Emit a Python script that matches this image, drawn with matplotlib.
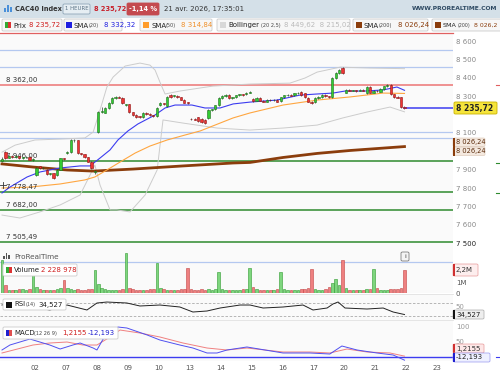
import matplotlib
matplotlib.use('Agg')
import matplotlib.pyplot as plt
from matplotlib.patches import FancyBboxPatch, Rectangle
from matplotlib.lines import Line2D
from matplotlib import transforms

W, H = 500, 375

# ---- hourly candles, 31 Mar close .. 21 Apr (9 bars per session) ----
opens = [7950,
         7995, 7965, 7975, 7968, 7974, 7962, 7968, 7972, 7955,
         7872, 7918, 7908, 7900, 7876, 7880, 7872, 7900, 7962,
         7990, 7995, 8060, 8060, 7990, 7985, 7970, 7945, 7890,
         8105, 8214, 8210, 8236, 8263, 8290, 8298, 8292, 8250,
         8255, 8212, 8198, 8190, 8186, 8208, 8205, 8196, 8190,
         8250, 8262, 8245, 8307, 8300, 8302, 8293, 8282, 8268,
         8178, 8176, 8185, 8178, 8172, 8182, 8225, 8228, 8252,
         8290, 8300, 8306, 8290, 8294, 8305, 8310, 8312, 8320,
         8285, 8275, 8292, 8275, 8270, 8280, 8277, 8280, 8272,
         8295, 8305, 8307, 8305, 8315, 8322, 8317, 8290, 8270,
         8268, 8290, 8296, 8306, 8300, 8296, 8400, 8426, 8452,
         8320, 8335, 8330, 8333, 8329, 8334, 8318, 8350, 8320,
         8330, 8325, 8340, 8355, 8362, 8310, 8296, 8295, 8244]
closes = [7960,
          7965, 7975, 7968, 7974, 7962, 7968, 7972, 7955, 7960,
          7910, 7908, 7912, 7875, 7880, 7858, 7900, 7962, 7957,
          7995, 8062, 8062, 7992, 7985, 7970, 7945, 7910, 7895,
          8214, 8220, 8236, 8263, 8290, 8298, 8292, 8263, 8256,
          8212, 8198, 8187, 8186, 8208, 8204, 8196, 8192, 8236,
          8262, 8255, 8296, 8296, 8305, 8296, 8282, 8265, 8262,
          8176, 8172, 8165, 8160, 8155, 8225, 8228, 8250, 8290,
          8300, 8306, 8290, 8293, 8305, 8310, 8306, 8320, 8323,
          8275, 8292, 8275, 8270, 8280, 8277, 8280, 8270, 8295,
          8305, 8307, 8303, 8315, 8318, 8306, 8296, 8270, 8265,
          8290, 8296, 8306, 8300, 8296, 8400, 8426, 8442, 8426,
          8335, 8330, 8333, 8329, 8334, 8330, 8350, 8320, 8330,
          8327, 8340, 8355, 8362, 8310, 8295, 8292, 8242, 8235.72]
highs = [7968,
         8002, 7980, 7980, 7978, 7976, 7970, 7976, 7975, 7963,
         7915, 7922, 7916, 7902, 7884, 7882, 7904, 7966, 7966,
         8000, 8066, 8070, 8064, 7994, 7988, 7972, 7948, 7900,
         8218, 8240, 8240, 8266, 8294, 8302, 8300, 8294, 8260,
         8258, 8216, 8202, 8194, 8212, 8212, 8208, 8200, 8240,
         8266, 8265, 8300, 8310, 8308, 8305, 8296, 8285, 8270,
         8182, 8180, 8188, 8182, 8176, 8228, 8232, 8254, 8294,
         8304, 8310, 8310, 8296, 8308, 8314, 8314, 8324, 8326,
         8288, 8296, 8295, 8278, 8284, 8283, 8284, 8283, 8298,
         8308, 8310, 8310, 8318, 8322, 8326, 8320, 8294, 8274,
         8294, 8300, 8310, 8310, 8302, 8404, 8430, 8446, 8460,
         8338, 8338, 8336, 8336, 8338, 8337, 8354, 8354, 8334,
         8333, 8344, 8358, 8366, 8366, 8314, 8300, 8298, 8248]
lows = [7945,
        7960, 7962, 7965, 7965, 7958, 7958, 7965, 7952, 7950,
        7866, 7905, 7905, 7870, 7872, 7850, 7868, 7898, 7952,
        7985, 7990, 8052, 7988, 7980, 7966, 7940, 7905, 7876,
        8100, 8208, 8206, 8232, 8260, 8286, 8288, 8260, 8246,
        8208, 8194, 8183, 8182, 8183, 8200, 8193, 8188, 8186,
        8248, 8250, 8242, 8292, 8296, 8292, 8278, 8262, 8258,
        8172, 8168, 8162, 8156, 8150, 8178, 8220, 8224, 8248,
        8286, 8296, 8286, 8286, 8290, 8302, 8302, 8308, 8316,
        8270, 8272, 8272, 8266, 8267, 8274, 8274, 8266, 8268,
        8292, 8302, 8300, 8302, 8312, 8302, 8292, 8266, 8260,
        8264, 8286, 8292, 8296, 8292, 8290, 8396, 8422, 8422,
        8315, 8326, 8326, 8325, 8326, 8326, 8314, 8316, 8316,
        8323, 8321, 8336, 8352, 8306, 8290, 8288, 8238, 8232]
volumes_m = [3.1,
             0.75, 0.3, 0.3, 0.25, 0.35, 0.35, 0.3, 0.4, 2.7,
             0.6, 0.35, 0.3, 0.3, 0.25, 0.3, 0.35, 0.45, 1.2,
             0.5, 0.4, 0.3, 0.35, 0.3, 0.3, 0.35, 0.4, 2.2,
             0.85, 0.45, 0.35, 0.3, 0.3, 0.25, 0.3, 0.4, 3.8,
             0.5, 0.35, 0.3, 0.3, 0.25, 0.3, 0.35, 0.4, 2.9,
             0.45, 0.35, 0.3, 0.3, 0.25, 0.3, 0.4, 0.35, 2.4,
             0.4, 0.3, 0.3, 0.35, 0.3, 0.4, 0.3, 0.35, 2.0,
             0.4, 0.3, 0.3, 0.25, 0.3, 0.3, 0.35, 0.4, 2.4,
             0.55, 0.35, 0.3, 0.3, 0.25, 0.3, 0.3, 0.35, 2.0,
             0.4, 0.3, 0.3, 0.25, 0.3, 0.35, 0.4, 0.45, 2.3,
             0.35, 0.3, 0.3, 0.4, 0.6, 1.0, 1.3, 0.8, 3.1,
             0.45, 0.3, 0.3, 0.3, 0.25, 0.3, 0.35, 0.4, 2.3,
             0.5, 0.3, 0.3, 0.3, 0.35, 0.4, 0.35, 0.45, 2.2]

day_labels = ['02', '07', '08', '09', '10', '13', '14', '15', '16', '17',
              '20', '21', '22', '23']

# indicator lines (bar index, value)
sma20_x = [0, 2.3, 7.3, 11.0, 16.9, 22.7, 25.6, 28.5, 31.4, 33.7, 36.6, 39.5,
           44.5, 47.4, 50.3, 55.2, 59.0, 63.4, 67.2, 72.1, 79.9, 86.6, 91.6,
           96.2, 99.7, 105.5, 110.8, 114.8, 117]
sma20_y = [7774, 7806, 7861, 7888, 7910, 7921, 7921, 7964, 8008, 8062, 8111,
           8149, 8198, 8236, 8252, 8252, 8236, 8236, 8258, 8268, 8279, 8306,
           8312, 8317, 8328, 8328, 8334, 8350, 8332]
sma50_x = [0, 8.1, 16.9, 24.1, 27.0, 30.5, 34.3, 38.7, 43.0, 48.0, 53.2, 57.6,
           63.4, 67.2, 72.1, 81.7, 91.6, 101.2, 110.8, 117]
sma50_y = [7801, 7806, 7823, 7845, 7861, 7899, 7942, 7991, 8029, 8062, 8089,
           8111, 8154, 8182, 8209, 8252, 8279, 8296, 8317, 8315]
sma200_x = [0, 9.0, 18.9, 26.5, 38.1, 52.6, 67.2, 72.1, 81.7, 91.6, 101.2, 117]
sma200_y = [7932, 7915, 7899, 7893, 7904, 7921, 7937, 7940, 7967, 7989, 8005,
            8026.24]
boll_up_x = [0, 3.8, 9.6, 16.9, 24.1, 26.5, 28.5, 30.5, 32.3, 35.8, 40.1, 43.0,
             44.5, 45.9, 47.4, 51.7, 61.3, 72.1, 83.7, 88.1, 91.6, 98.3, 107.0,
             117]
boll_up_y = [7996, 8034, 8062, 8067, 8073, 8105, 8225, 8350, 8404, 8464, 8480,
             8469, 8442, 8377, 8312, 8328, 8355, 8366, 8371, 8399, 8431, 8458,
             8453, 8449.62]
boll_lo_x = [0, 5.2, 11.0, 16.9, 22.7, 25.6, 27.0, 28.5, 31.4, 33.4, 37.2, 41.6,
             45.1, 46.8, 52.6, 62.5, 72.1, 81.7, 91.6, 99.1, 106.1, 112.8, 117]
boll_lo_y = [7654, 7638, 7671, 7709, 7763, 7872, 7926, 7817, 7682, 7682, 7671,
             7763, 7899, 8171, 8154, 8127, 8116, 8127, 8143, 8182, 8214, 8241,
             8215.02]
rsi_x = [0, 2.3, 13.9, 18.9, 24.7, 27.6, 30.5, 36.3, 40.1, 45.9, 51.7, 55.5,
         59.6, 63.4, 69.2, 72.1, 75.9, 81.7, 87.5, 90.4, 94.5, 96.2, 97.7, 99.7,
         106.1, 110.8, 113.7, 117]
rsi_y = [63.8, 70, 48.5, 63.8, 48.5, 70, 73, 70, 60.8, 63.8, 57.7, 42.3, 45.4,
         54.6, 63.8, 63.8, 54.6, 57.7, 63.8, 48.5, 54.6, 66.9, 73.1, 54.6, 51.5,
         54.6, 42.3, 34.527]
macd_x = [0, 2.3, 8.1, 13.9, 16.9, 20.6, 22.7, 26.5, 27.6, 29.4, 33.7, 36.3,
          42.2, 45.9, 51.7, 55.5, 59.6, 62.5, 65.4, 71.2, 81.7, 89.5, 95.3,
          98.8, 103.2, 109.0, 113.7, 117]
macd_y = [21.7, 38.3, 58.3, 38.3, 25, 38.3, 45, 28.3, 21.7, 58.3, 98.3, 95,
          71.7, 55, 38.3, 28.3, 11.7, 11.7, 21.7, 31.7, 11.7, 11.7, 8.3, 35,
          21.7, 11.7, 5, -12.193]
signal_x = [0, 9.0, 13.9, 18.9, 23.5, 27.6, 31.4, 34.3, 40.1, 45.9, 52.6, 59.6,
            65.4, 71.2, 81.7, 89.5, 95.3, 100.3, 106.1, 112.8, 117]
signal_y = [11.7, 38.3, 45, 48.3, 38.3, 38.3, 65, 88.3, 78.3, 65, 45, 28.3,
            21.7, 28.3, 15, 15, 11.7, 25, 15, 11.7, 1.2155]

green_levels = [7946.00, 7778.47, 7682.00, 7505.49]
blue_levels = [8551, 8457, 8107, 8071, 7400]
red_level = 8362.00
last_price = 8235.72

# ---------------------------------------------------------------------------
X0, X1 = -0.58, 131.1      # bar-index range covered by the plot area
BG = '#fafafa'


def fy(y):
    return 1 - y / H


def ax_at(top, bottom):
    return fig.add_axes([0, fy(bottom), 453 / W, (bottom - top) / H])


def T(x, y, s, **kw):
    kw.setdefault('va', 'center')
    kw.setdefault('fontsize', 5)
    return fig.text(x / W, fy(y), s, **kw)


def box(x0, y0, x1, y1, fc, ec, lw=0.6, z=2):
    p = FancyBboxPatch((x0 / W, fy(y1)), (x1 - x0) / W, (y1 - y0) / H,
                       boxstyle='round,pad=0,rounding_size=0.003',
                       transform=fig.transFigure, fc=fc, ec=ec, lw=lw, zorder=z)
    fig.add_artist(p)


def rect(x0, y0, x1, y1, fc, z=2):
    fig.add_artist(Rectangle((x0 / W, fy(y1)), (x1 - x0) / W, (y1 - y0) / H,
                             transform=fig.transFigure, fc=fc, ec='none', zorder=z))


def seg(x0, y0, x1, y1, color, lw=1.0, z=2):
    fig.add_artist(Line2D([x0 / W, x1 / W], [fy(y0), fy(y1)], color=color, lw=lw,
                          transform=fig.transFigure, zorder=z))


fig = plt.figure(figsize=(5, 3.75), dpi=100, facecolor='white')

# ---- price panel -----------------------------------------------------------
ax = ax_at(33, 293)
ax.set_facecolor(BG)
ax.set_xlim(X0, X1)
ax.set_ylim(7230.4, 8643.5)
for s in ax.spines.values():
    s.set_visible(False)
ax.set_xticks([])
ax.yaxis.tick_right()
# 8 000 and 8 200 sit under the value tags on the right
pt = [7500, 7600, 7700, 7800, 7900, 8100, 8300, 8400, 8500, 8600]
ax.set_yticks(pt)
ax.set_yticklabels([f'{v:,}'.replace(',', ' ') for v in pt])
ax.tick_params(axis='y', length=0, pad=2, labelsize=5, labelcolor='#888888')
ax.get_yticklabels()[0].set_color('#222222')

for lv in blue_levels:
    ax.axhline(lv, color='#b4c8f0', lw=0.9, zorder=1)
ax.axhline(red_level, color='#ee8888', lw=1.3, zorder=1)
for lv in green_levels:
    ax.axhline(lv, color='#2e8b2e', lw=1.1, zorder=1)

ax.plot(boll_up_x, boll_up_y, color='#cccccc', lw=0.7, zorder=2)
ax.plot(boll_lo_x, boll_lo_y, color='#cccccc', lw=0.7, zorder=2)
ax.plot(sma200_x, sma200_y, color='#8b3d0c', lw=2.0, zorder=2)
ax.plot(sma50_x, sma50_y, color='#ffa640', lw=0.8, zorder=2)
ax.plot(sma20_x, sma20_y, color='#3c3cf0', lw=0.8, zorder=2)

idx = list(range(len(closes)))
up = [c >= o for o, c in zip(opens, closes)]
ax.vlines(idx, lows, highs, color='#333333', lw=0.5, zorder=3)
bottoms = [min(o, c) for o, c in zip(opens, closes)]
heights = [max(abs(c - o), 2.5) for o, c in zip(opens, closes)]
ax.bar(idx, heights, bottom=bottoms, width=0.66,
       color=['#33cc33' if u else '#ee3333' for u in up],
       edgecolor=['#1d6e1d' if u else '#8e1414' for u in up], lw=0.4, zorder=4)
ax.plot([len(closes) - 1, X1], [last_price, last_price], color='#3c3cf0',
        lw=1.1, zorder=3)

lbl = transforms.blended_transform_factory(ax.transAxes, ax.transData)
for lv, txt in [(red_level, '8 362,00'), (7946.00, '7 946,00'),
                (7778.47, '7 778,47'), (7682.00, '7 682,00'),
                (7505.49, '7 505,49')]:
    ax.text(0.014, lv + 12, txt, transform=lbl, fontsize=5, color='#333333',
            va='bottom', ha='left', zorder=2)

# ---- volume (overlay) -------------------------------------------------------
av = ax_at(250, 293)
av.patch.set_alpha(0)
av.set_xlim(X0, X1)
av.set_ylim(0, 4.1)
for s in av.spines.values():
    s.set_visible(False)
av.set_xticks([])
av.yaxis.tick_right()
av.set_yticks([0, 1])
av.set_yticklabels(['0', '1M'])
av.tick_params(axis='y', length=0, pad=2, labelsize=5, labelcolor='#555555')
av.bar(idx, volumes_m, width=0.75,
       color=['#7ed67e' if u else '#ee8080' for u in up],
       edgecolor=['#2f9a2f' if u else '#c44444' for u in up], lw=0.4)

# ---- RSI ------------------------------------------------------------------
ar = ax_at(294, 320)
ar.set_facecolor(BG)
ar.set_xlim(X0, X1)
ar.set_ylim(17.7, 97.7)
for s in ar.spines.values():
    s.set_visible(False)
ar.set_xticks([])
ar.yaxis.tick_right()
ar.set_yticks([50])
ar.tick_params(axis='y', length=0, pad=2, labelsize=5, labelcolor='#999999')
for t in ar.get_yticklabels():
    t.set_va('bottom')
for lv in (70, 30):
    ar.axhline(lv, color='#aaaaaa', lw=0.6, ls=(0, (3, 2)))
ar.plot(rsi_x, rsi_y, color='#222222', lw=0.7)

# ---- MACD -----------------------------------------------------------------
am = ax_at(320, 361)
am.set_facecolor(BG)
am.set_xlim(X0, X1)
am.set_ylim(-15, 121.7)
for s in am.spines.values():
    s.set_visible(False)
am.yaxis.tick_right()
am.set_yticks([50, 100])
am.tick_params(axis='y', length=0, pad=2, labelsize=5, labelcolor='#999999')
am.set_xticks([9.5 + 9 * k for k in range(len(day_labels))])
am.set_xticklabels(day_labels)
am.tick_params(axis='x', length=0, pad=3, labelsize=5, labelcolor='#555555')
am.axhline(0, color='#3c3cf0', lw=1.0)
am.plot(signal_x, signal_y, color='#f08080', lw=0.7)
am.plot(macd_x, macd_y, color='#5050f0', lw=0.7)

seg(0, 294, 453, 294, '#e2e2e2', 0.6)
seg(0, 320, 453, 320, '#e2e2e2', 0.6)

# crosshair cursor left of 7 778,47
seg(0, 185, 6, 185, '#333333', 0.6)
seg(3, 182, 3, 188, '#333333', 0.6)

# ---- header ----------------------------------------------------------------
rect(0, 0, 500, 18, '#d4e0e8', z=1)
for i, h in enumerate([4, 7, 5]):
    rect(4 + i * 3, 12 - h, 6 + i * 3, 12, '#4a90d9')
T(15, 9, 'CAC40 Index', fontsize=4.8, fontweight='bold', color='#333333')
box(63, 4, 90, 14, '#e6eef3', '#8fa6b8')
T(76.5, 9, '1 HEURE', fontsize=3.9, color='#5a7184', ha='center')
T(94, 9, '8 235,72', fontsize=4.8, fontweight='bold', color='#c8202a')
box(127, 3, 159, 15, '#c44a4f', '#c44a4f')
T(143, 9, '-1,14 %', fontsize=4.8, fontweight='bold', color='white', ha='center')
T(164, 9, '21 avr. 2026, 17:35:01', fontsize=5, color='#333333')
T(497, 9, 'WWW.PROREALTIME.COM', fontsize=4.3, fontweight='bold',
  color='#2e4a63', ha='right')

# legend row
box(2, 19, 62, 31, '#f7f7f7', '#cccccc')
rect(5, 22, 8, 28, '#33aa33')
rect(8, 22, 11, 28, '#dd3333')
T(13, 25.5, 'Prix', color='#222222')
T(29, 25.5, '8 235,72', color='#d02020')
box(64, 19, 122, 31, '#f7f7f7', '#cccccc')
rect(66, 22, 72, 28, '#1f1fe0')
T(74, 25.5, 'SMA', color='#222222')
T(88.5, 25.5, '(20)', fontsize=3.6, color='#444444')
T(104, 25.5, '8 332,32', color='#2020e0')
box(140, 19, 212, 31, '#f7f7f7', '#cccccc')
rect(143, 22, 149, 28, '#ff9c2a')
T(151, 25.5, 'SMA', color='#222222')
T(165.5, 25.5, '(50)', fontsize=3.6, color='#444444')
T(181, 25.5, '8 314,84', color='#f0902a')
box(217, 19, 350, 31, '#f7f7f7', '#cccccc')
rect(220, 22, 226, 28, '#d8d8d8')
T(228, 25.5, 'Bollinger', color='#222222')
T(261, 25.5, '(20 2,5)', fontsize=3.6, color='#444444')
T(284, 25.5, '8 449,62  8 215,02', color='#bbbbbb')
box(353, 19, 428, 31, '#f7f7f7', '#cccccc')
rect(356, 22, 362, 28, '#8b3d0c')
T(364, 25.5, 'SMA', color='#222222')
T(378.5, 25.5, '(200)', fontsize=3.6, color='#444444')
T(398, 25.5, '8 026,24', color='#8b3d0c')
box(432, 19, 505, 31, '#f7f7f7', '#cccccc')
rect(435, 22, 441, 28, '#8b3d0c')
T(442.5, 25.5, 'SMA', fontsize=4.6, color='#222222')
T(457.5, 25.5, '(200)', fontsize=3.4, color='#444444')
T(473.5, 25.5, '8 026,2', fontsize=4.4, color='#8b3d0c')
seg(0, 33, 453, 33, '#e06060', 0.9)

# right-hand value tags
box(454, 102, 497, 114, '#f5e43c', '#c9b200')
T(456, 108, '8 235,72', fontsize=5.5, fontweight='bold', color='#222222')
for y0 in (138, 147):
    box(453, y0, 485, y0 + 8.5, '#f4e9df', '#d9c4b2', lw=0.4)
    rect(453, y0, 455, y0 + 8.5, '#8b3d0c', z=3)
    T(456, y0 + 4.3, '8 026,24', fontsize=4.8, color='#5a2a0a', zorder=4)
box(453, 264, 478, 276, '#fdeeee', '#e89a9a', lw=0.5)
rect(453, 264, 455, 276, '#d03030', z=3)
T(456, 270, '2,2M', fontsize=5, color='#333333', zorder=4)
box(453, 310, 484, 319, '#eeeeee', '#aaaaaa', lw=0.5)
rect(453, 310, 455, 319, '#111111', z=3)
T(456, 314.5, '34,527', fontsize=5, color='#222222', zorder=4)
box(453, 344, 484, 353, '#fde7e7', '#e89a9a', lw=0.5)
rect(453, 344, 455, 353, '#d03030', z=3)
T(456, 348.5, '1,2155', fontsize=5, color='#333333', zorder=4)
box(453, 353, 490, 362, '#eef0ff', '#9999ee', lw=0.5, z=5)
rect(453, 353, 455, 362, '#2020d0', z=6)
T(456, 357.5, '-12,193', fontsize=5, color='#222222', zorder=7)

# small markers on the right edge
for y, c in [(85, '#e06060'), (163, '#2e8b2e'), (193, '#2e8b2e'),
             (356.5, '#3c3cf0')]:
    seg(496, y, 500, y, c, 0.8)

# panel labels
T(14, 257, 'ProRealTime', fontsize=5.2, color='#555555')
for i, h in enumerate([3, 6, 4]):
    rect(3 + i * 2.5, 259 - h, 4.5 + i * 2.5, 259, '#555555')
box(401, 252, 409, 261, '#f4f4f4', '#666666', lw=0.5)
T(405, 256.5, 'i', fontsize=4.5, color='#333333', ha='center')

box(3, 264, 77, 276, '#ffffff', '#cccccc')
rect(6, 267, 9, 273, '#33aa33')
rect(9, 267, 12, 273, '#dd3333')
T(14, 270, 'Volume', color='#222222')
T(41, 270, '2 228 978', color='#d02020')

box(3, 299, 66, 310, '#ffffff', '#cccccc')
rect(6, 301.5, 12, 307.5, '#111111')
T(14, 304.5, 'RSI', color='#222222')
T(26, 304.5, '(14)', fontsize=3.6, color='#444444')
T(38, 304.5, '34,527', color='#222222')

box(3, 327, 118, 339, '#ffffff', '#cccccc')
rect(6, 330, 9, 336, '#2020d0')
rect(9, 330, 12, 336, '#e05050')
T(14, 333, 'MACD', color='#222222')
T(34, 333, '(12 26 9)', fontsize=3.6, color='#444444')
T(62, 333, '1,2155', color='#d02020')
T(88, 333, '-12,193', color='#2020d0')

fig.savefig('out.png', dpi=100, facecolor='white')
